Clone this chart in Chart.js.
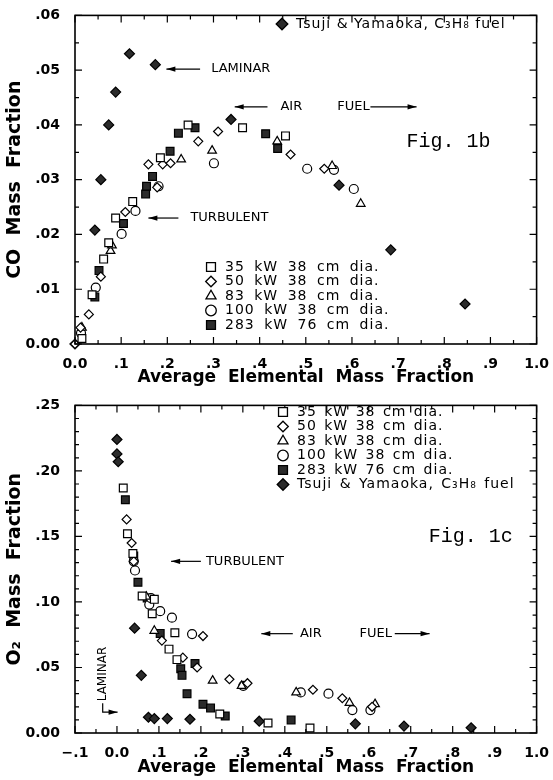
<!DOCTYPE html>
<html>
<head>
<meta charset="utf-8">
<script src="https://cdn.jsdelivr.net/npm/chart.js@4/dist/chart.umd.min.js"></script>
<style>
  html, body { margin: 0; padding: 0; background: #fff; }
  .wrap { position: relative; width: 553px; height: 780px; }
  canvas { position: absolute; left: 0; }
</style>
</head>
<body>
<div class="wrap">
  <canvas id="coChart" width="553" height="390" style="top:0"></canvas>
  <canvas id="o2Chart" width="553" height="390" style="top:390px"></canvas>
</div>
<script>
'use strict'

// series names (shared by both panels)
const seriesLabels = ['35 kW 38 cm dia.', '50 kW 38 cm dia.', '83 kW 38 cm dia.',
  '100 kW 38 cm dia.', '283 kW 76 cm dia.', 'Tsuji & Yamaoka, C\u2083H\u2088 fuel'];

// Fig. 1b - CO mass fraction
const co35x = [0.015, 0.037, 0.062, 0.073, 0.088, 0.125, 0.185, 0.245, 0.363, 0.456];
const co35y = [0.001, 0.009, 0.0155, 0.0185, 0.023, 0.026, 0.034, 0.040, 0.0395, 0.038];
const co50x = [0.0, 0.012, 0.03, 0.056, 0.109, 0.159, 0.178, 0.19, 0.207, 0.267, 0.31, 0.467, 0.54];
const co50y = [0.0, 0.003, 0.0054, 0.0123, 0.0241, 0.0328, 0.0286, 0.0328, 0.033, 0.037, 0.0388, 0.0346, 0.032];
const co83x = [0.015, 0.077, 0.08, 0.23, 0.297, 0.438, 0.557, 0.619];
const co83y = [0.003, 0.017, 0.018, 0.0337, 0.0353, 0.037, 0.0325, 0.0256];
const co100x = [0.013, 0.045, 0.101, 0.131, 0.181, 0.301, 0.503, 0.561, 0.604];
const co100y = [0.002, 0.0103, 0.0201, 0.0243, 0.0288, 0.033, 0.032, 0.0318, 0.0283];
const co283x = [0.043, 0.052, 0.105, 0.153, 0.155, 0.168, 0.206, 0.224, 0.26, 0.413, 0.439];
const co283y = [0.0086, 0.0134, 0.022, 0.0274, 0.0288, 0.0306, 0.0352, 0.0385, 0.0395, 0.0384, 0.0357];
const coTsujiX = [0.0, 0.043, 0.056, 0.073, 0.088, 0.118, 0.174, 0.338, 0.572, 0.684, 0.845];
const coTsujiY = [0.0, 0.0208, 0.030, 0.040, 0.046, 0.053, 0.051, 0.041, 0.029, 0.0172, 0.0073];

// Fig. 1c - O2 mass fraction
const o35x = [0.015, 0.025, 0.038, 0.06, 0.084, 0.089, 0.124, 0.138, 0.143, 0.245, 0.36, 0.46];
const o35y = [0.187, 0.152, 0.137, 0.1045, 0.091, 0.102, 0.064, 0.0765, 0.056, 0.0145, 0.0076, 0.0038];
const o50x = [0.023, 0.035, 0.04, 0.107, 0.157, 0.191, 0.205, 0.268, 0.311, 0.467, 0.537, 0.608];
const o50y = [0.163, 0.145, 0.131, 0.0705, 0.0575, 0.05, 0.074, 0.041, 0.038, 0.033, 0.0265, 0.020];
const o83x = [0.07, 0.089, 0.228, 0.297, 0.427, 0.554, 0.615];
const o83y = [0.104, 0.078, 0.040, 0.036, 0.031, 0.023, 0.022];
const o100x = [0.04, 0.043, 0.077, 0.081, 0.103, 0.131, 0.179, 0.301, 0.438, 0.504, 0.561, 0.604];
const o100y = [0.131, 0.124, 0.098, 0.103, 0.093, 0.088, 0.0755, 0.036, 0.031, 0.030, 0.0175, 0.0175];
const o283x = [0.02, 0.04, 0.05, 0.072, 0.103, 0.152, 0.155, 0.186, 0.167, 0.205, 0.223, 0.258, 0.415];
const o283y = [0.178, 0.135, 0.115, 0.103, 0.076, 0.049, 0.044, 0.053, 0.030, 0.022, 0.019, 0.013, 0.010];
const oTsujiX = [0.0, 0.0, 0.003, 0.042, 0.058, 0.075, 0.089, 0.12, 0.174, 0.339, 0.568, 0.684, 0.844];
const oTsujiY = [0.224, 0.213, 0.207, 0.080, 0.044, 0.012, 0.011, 0.011, 0.0105, 0.009, 0.007, 0.0053, 0.004];

// tick labels
const coXTicks = ['0.0', '.1', '.2', '.3', '.4', '.5', '.6', '.7', '.8', '.9', '1.0'];
const coYTicks = ['0.00', '.01', '.02', '.03', '.04', '.05', '.06'];
const o2XTicks = ['\u2212.1', '0.0', '.1', '.2', '.3', '.4', '.5', '.6', '.7', '.8', '.9', '1.0'];
const o2YTicks = ['0.00', '.05', '.10', '.15', '.20', '.25'];

Chart.defaults.font.family = "'DejaVu Sans', sans-serif";
Chart.defaults.color = '#000';

const markers = [
  {pointStyle: 'rect', radius: 5.5, fill: '#fff'},
  {pointStyle: 'rectRot', radius: 4.5, fill: '#fff'},
  {pointStyle: 'triangle', radius: 5, fill: '#fff'},
  {pointStyle: 'circle', radius: 4.5, fill: '#fff'},
  {pointStyle: 'rect', radius: 5.5, fill: '#2b2b2b'},
  {pointStyle: 'rectRot', radius: 5, fill: '#2b2b2b'},
];

function pts(xs, ys) {
  return xs.map((x, i) => ({x: x, y: ys[i]}));
}

function makeSets(groups) {
  return groups.map((g, i) => ({
    label: seriesLabels[i],
    data: pts(g[0], g[1]),
    pointStyle: markers[i].pointStyle,
    pointRadius: markers[i].radius,
    pointBackgroundColor: markers[i].fill,
    pointBorderColor: '#000',
    pointBorderWidth: 1.2,
    showLine: false,
    clip: false,
  }));
}

// box + inward tick marks on all four sides
const frameTicks = {
  id: 'frameTicks',
  afterDatasetsDraw(chart, args, opts) {
    const ctx = chart.ctx, a = chart.chartArea;
    const x = chart.scales.x, y = chart.scales.y;
    ctx.save();
    ctx.strokeStyle = '#000';
    ctx.lineWidth = 1.2;
    ctx.beginPath();
    let n = Math.round((x.max - x.min) / opts.xMinor);
    for (let i = 0; i <= n; i++) {
      const px = x.getPixelForValue(x.min + i * opts.xMinor);
      const len = i % opts.xEvery === 0 ? 7 : 4;
      ctx.moveTo(px, a.bottom); ctx.lineTo(px, a.bottom - len);
      ctx.moveTo(px, a.top); ctx.lineTo(px, a.top + len);
    }
    n = Math.round((y.max - y.min) / opts.yMinor);
    for (let i = 0; i <= n; i++) {
      const py = y.getPixelForValue(y.min + i * opts.yMinor);
      const len = i % opts.yEvery === 0 ? 7 : 4;
      ctx.moveTo(a.left, py); ctx.lineTo(a.left + len, py);
      ctx.moveTo(a.right, py); ctx.lineTo(a.right - len, py);
    }
    ctx.stroke();
    ctx.lineWidth = 1.6;
    ctx.strokeRect(a.left, a.top, a.width, a.height);
    ctx.restore();
  }
};

// text labels and arrows placed in data units
const notes = {
  id: 'notes',
  afterDatasetsDraw(chart, args, opts) {
    const ctx = chart.ctx;
    const x = chart.scales.x, y = chart.scales.y;
    ctx.save();
    ctx.fillStyle = '#000';
    ctx.strokeStyle = '#000';
    (opts.arrows || []).forEach(path => {
      const p = path.map(q => [x.getPixelForValue(q[0]), y.getPixelForValue(q[1])]);
      ctx.lineWidth = 1.2;
      ctx.beginPath();
      ctx.moveTo(p[0][0], p[0][1]);
      for (let i = 1; i < p.length; i++) ctx.lineTo(p[i][0], p[i][1]);
      ctx.stroke();
      const e = p[p.length - 1], s = p[p.length - 2];
      const ang = Math.atan2(e[1] - s[1], e[0] - s[0]);
      ctx.save();
      ctx.translate(e[0], e[1]);
      ctx.rotate(ang);
      ctx.beginPath();
      ctx.moveTo(0, 0);
      ctx.lineTo(-9, -2.6);
      ctx.lineTo(-9, 2.6);
      ctx.closePath();
      ctx.fill();
      ctx.restore();
    });
    (opts.texts || []).forEach(t => {
      ctx.save();
      ctx.font = t.font || "13px 'DejaVu Sans'";
      ctx.textBaseline = 'middle';
      ctx.textAlign = t.align || 'left';
      ctx.translate(x.getPixelForValue(t.x), y.getPixelForValue(t.y));
      if (t.rotate) ctx.rotate(t.rotate * Math.PI / 180);
      ctx.fillText(t.text, 0, 0);
      ctx.restore();
    });
    ctx.restore();
  }
};

// marker key drawn inside the plot
const keyBox = {
  id: 'keyBox',
  afterDatasetsDraw(chart, args, opts) {
    const ctx = chart.ctx;
    ctx.save();
    opts.boxes.forEach(b => {
      b.entries.forEach((di, row) => {
        const ds = chart.data.datasets[di];
        const cy = b.top + row * b.rowGap;
        const m = markers[di];
        ctx.fillStyle = m.fill;
        ctx.strokeStyle = '#000';
        ctx.lineWidth = 1.3;
        Chart.helpers.drawPoint(ctx, {pointStyle: m.pointStyle, radius: m.radius + 0.8, borderWidth: 1.3}, b.left, cy);
        ctx.fillStyle = '#000';
        ctx.font = "14px 'DejaVu Sans'";
        ctx.letterSpacing = '1px';
        ctx.wordSpacing = b.wordSpacing || '0px';
        ctx.textBaseline = 'middle';
        ctx.textAlign = 'left';
        ctx.fillText(ds.label, b.left + 14, cy);
      });
    });
    ctx.restore();
  }
};

function axisOptions(xMin, xMax, yMin, yMax, yStep, xLabels, yLabels, yTitle, xHeight) {
  return {
    x: {
      type: 'linear', min: xMin, max: xMax,
      grid: {display: false},
      border: {display: false},
      ticks: {stepSize: 0.1, autoSkip: false, maxRotation: 0, padding: 4,
        font: {size: 14, weight: 'bold'},
        callback: (v, i) => xLabels[i]},
      title: {display: true, text: 'Average  Elemental  Mass  Fraction',
        font: {size: 17, weight: 'bold'}, padding: {top: 0, bottom: 2}},
      afterFit: s => { s.height = xHeight; },
    },
    y: {
      type: 'linear', min: yMin, max: yMax,
      grid: {display: false},
      border: {display: false},
      ticks: {stepSize: yStep, autoSkip: false, padding: 7,
        font: {size: 14, weight: 'bold'},
        callback: (v, i) => yLabels[i]},
      title: {display: true, text: yTitle,
        font: {size: 19, weight: 'bold'}, padding: {top: 4, bottom: 0}},
      afterFit: s => { s.width = 75; },
    },
  };
}

const coChart = new Chart(document.getElementById('coChart').getContext('2d'), {
  type: 'scatter',
  data: {datasets: makeSets([[co35x, co35y], [co50x, co50y], [co83x, co83y],
    [co100x, co100y], [co283x, co283y], [coTsujiX, coTsujiY]])},
  options: {
    responsive: false,
    animation: false,
    layout: {padding: {top: 13, right: 12, left: 0, bottom: 0}},
    scales: axisOptions(0, 1, 0, 0.06, 0.01, coXTicks, coYTicks, 'CO  Mass  Fraction', 46),
    plugins: {
      legend: {display: false},
      tooltip: {enabled: false},
      frameTicks: {xMinor: 0.05, xEvery: 2, yMinor: 0.005, yEvery: 2},
      keyBox: {boxes: [
        {entries: [5], left: 282, top: 24, rowGap: 0},
        {entries: [0, 1, 2, 3, 4], left: 211, top: 267, rowGap: 14.5, wordSpacing: '4px'},
      ]},
      notes: {
        texts: [
          {text: 'LAMINAR', x: 0.295, y: 0.0502},
          {text: 'AIR', x: 0.445, y: 0.0433},
          {text: 'FUEL', x: 0.568, y: 0.0433},
          {text: 'TURBULENT', x: 0.25, y: 0.023},
          {text: 'Fig. 1b', x: 0.718, y: 0.037, font: "20px 'Liberation Mono'"},
        ],
        arrows: [
          [[0.271, 0.0502], [0.198, 0.0502]],
          [[0.417, 0.0433], [0.346, 0.0433]],
          [[0.64, 0.0433], [0.74, 0.0433]],
          [[0.224, 0.023], [0.159, 0.023]],
        ],
      },
    },
  },
  plugins: [frameTicks, notes, keyBox],
});

const o2Chart = new Chart(document.getElementById('o2Chart').getContext('2d'), {
  type: 'scatter',
  data: {datasets: makeSets([[o35x, o35y], [o50x, o50y], [o83x, o83y],
    [o100x, o100y], [o283x, o283y], [oTsujiX, oTsujiY]])},
  options: {
    responsive: false,
    animation: false,
    layout: {padding: {top: 13, right: 12, left: 0, bottom: 0}},
    scales: axisOptions(-0.1, 1, 0, 0.25, 0.05, o2XTicks, o2YTicks, 'O\u2082  Mass  Fraction', 47),
    plugins: {
      legend: {display: false},
      tooltip: {enabled: false},
      frameTicks: {xMinor: 0.05, xEvery: 2, yMinor: 0.01, yEvery: 5},
      keyBox: {boxes: [
        {entries: [0, 1, 2, 3, 4, 5], left: 283, top: 22, rowGap: 14.5, wordSpacing: '2px'},
      ]},
      notes: {
        texts: [
          {text: 'TURBULENT', x: 0.212, y: 0.131},
          {text: 'AIR', x: 0.436, y: 0.0758},
          {text: 'FUEL', x: 0.578, y: 0.0758},
          {text: 'LAMINAR', x: -0.034, y: 0.045, rotate: -90, align: 'center', font: "12px 'DejaVu Sans'"},
          {text: 'Fig. 1c', x: 0.743, y: 0.15, font: "20px 'Liberation Mono'"},
        ],
        arrows: [
          [[0.2, 0.131], [0.129, 0.131]],
          [[0.419, 0.0758], [0.344, 0.0758]],
          [[0.662, 0.0758], [0.745, 0.0758]],
          [[-0.034, 0.0227], [-0.034, 0.0159], [0.0015, 0.0159]],
        ],
      },
    },
  },
  plugins: [frameTicks, notes, keyBox],
});
</script>
</body>
</html>
